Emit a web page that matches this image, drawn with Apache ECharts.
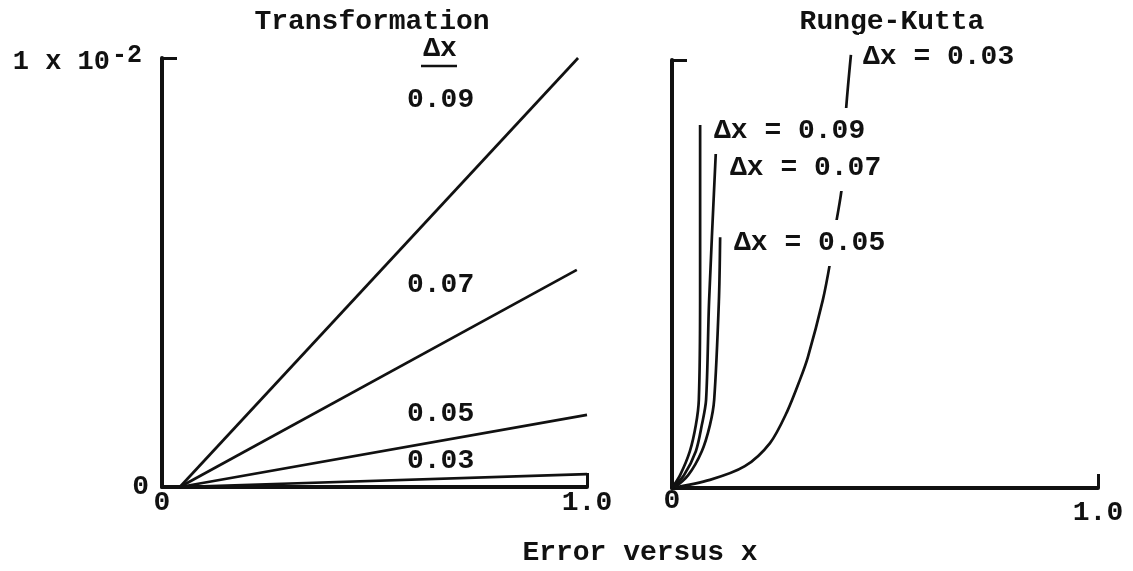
<!DOCTYPE html>
<html><head><meta charset="utf-8">
<script src="https://cdn.jsdelivr.net/npm/echarts@6/dist/echarts.min.js"></script>
<style>html,body{margin:0;padding:0;background:#fff}#c{width:1133px;height:571px}</style>
</head><body><div id="c"></div><script>
// ---- data (error in units of 1e-2, x from 0 to 1) ----
const panelTitles = ['Transformation', 'Runge-Kutta'];
const caption = 'Error versus x';
const xTickLabels = ['0', '1.0'];
const yTickLabelsLeft = ['0', '1 x 10', '-2'];
const trLabels = ['0.09', '0.07', '0.05', '0.03'];
const rkLabels = ['Δx = 0.03', 'Δx = 0.09', 'Δx = 0.07', 'Δx = 0.05'];

const tr009 = [[0.042, 0], [0.979, 1.0]];
const tr007 = [[0.042, 0], [0.976, 0.506]];
const tr005 = [[0.042, 0], [1.0, 0.168]];
const tr003 = [[0.042, 0], [1.0, 0.030]];

const rk003 = [[0, 0], [0.089, 0.019], [0.171, 0.051], [0.230, 0.105], [0.270, 0.178], [0.300, 0.252],
  [0.319, 0.306], [0.354, 0.439], [0.371, 0.526], [0.385, 0.617], [0.399, 0.706], [0.408, 0.876], [0.420, 1.012]];
const rk009 = [[0, 0], [0.019, 0.030], [0.042, 0.086], [0.056, 0.147], [0.063, 0.206], [0.066, 0.439], [0.066, 0.848]];
const rk007 = [[0, 0], [0.028, 0.030], [0.056, 0.086], [0.070, 0.147], [0.080, 0.206], [0.087, 0.435], [0.103, 0.787]];
const rk005 = [[0.005, 0], [0.038, 0.030], [0.070, 0.086], [0.089, 0.147], [0.099, 0.206], [0.110, 0.435], [0.113, 0.586]];

// ---- chart ----
const FONT = '"Liberation Mono", "DejaVu Sans Mono", monospace';
const INK = '#111';
const chart = echarts.init(document.getElementById('c'), null, {renderer: 'canvas'});

function xAxisCfg(gi, rightShift) {
  const base = {fontFamily: FONT, fontSize: 28, fontWeight: 'bold', color: INK};
  return {
    type: 'value', gridIndex: gi, min: 0, max: 1, interval: 1,
    splitLine: {show: false},
    axisLine: {lineStyle: {color: INK, width: 4}},
    axisTick: {inside: true, length: 14, lineStyle: {color: INK, width: 3}},
    axisLabel: {
      margin: 2, color: INK, fontFamily: FONT, fontSize: 28, fontWeight: 'bold',
      formatter: v => v === 0 ? '{a|' + xTickLabels[0] + '}' : '{b|' + xTickLabels[1] + '}',
      rich: {
        a: Object.assign({padding: [gi === 1 ? -3 : 0, 0, 0, 0]}, base),
        b: Object.assign({padding: [rightShift, 0, 0, 0]}, base)
      }
    }
  };
}
function yAxisCfg(gi, showLabels) {
  return {
    type: 'value', gridIndex: gi, min: 0, max: 1, interval: 1,
    splitLine: {show: false},
    axisLine: {lineStyle: {color: INK, width: 4}},
    axisTick: {inside: true, length: 15, lineStyle: {color: INK, width: 3}},
    axisLabel: {
      show: showLabels, margin: 13, color: INK, fontFamily: FONT, fontSize: 28, fontWeight: 'bold',
      formatter: v => v === 0 ? '{z|' + yTickLabelsLeft[0] + '}' : '{b|' + yTickLabelsLeft[1] + '}{s|' + yTickLabelsLeft[2] + '}',
      rich: {
        z: {fontFamily: FONT, fontSize: 28, fontWeight: 'bold', color: INK},
        b: {fontFamily: FONT, fontSize: 27, fontWeight: 'bold', color: INK, lineHeight: 30, padding: [8, 0, 0, 0]},
        s: {fontFamily: FONT, fontSize: 25, fontWeight: 'bold', color: INK, lineHeight: 30, verticalAlign: 'top', padding: [0, 7, 0, 2]}
      }
    }
  };
}
function line(data, xi) {
  return {
    type: 'line', xAxisIndex: xi, yAxisIndex: xi, data: data, symbol: 'none',
    smooth: xi === 1 ? 0.3 : false, clip: false, silent: true, z: 2,
    lineStyle: {color: INK, width: 2.7}
  };
}
function txt(text, x, y, opts) {
  return {
    type: 'text', x: x, y: y, z: 100, silent: true,
    style: Object.assign({text: text, font: 'bold 28px ' + FONT, fill: INK, align: 'left', verticalAlign: 'middle'}, opts || {})
  };
}
const labelBg = {backgroundColor: '#fff', padding: [9, 4, 9, 4]};

chart.setOption({
  animation: false,
  backgroundColor: '#fff',
  grid: [
    {left: 162, top: 58, width: 425, height: 429},
    {left: 672, top: 60, width: 426, height: 428}
  ],
  xAxis: [xAxisCfg(0, 0), xAxisCfg(1, 9)],
  yAxis: [yAxisCfg(0, true), yAxisCfg(1, false)],
  series: [
    line(tr009, 0), line(tr007, 0), line(tr005, 0), line(tr003, 0),
    line(rk003, 1), line(rk009, 1), line(rk007, 1), line(rk005, 1)
  ],
  graphic: [
    txt(panelTitles[0], 372, 22, {align: 'center'}),
    txt(panelTitles[1], 892, 22, {align: 'center'}),
    txt(caption, 640, 553, {align: 'center'}),
    txt('Δx', 440, 49, {align: 'center'}),
    {type: 'line', z: 100, silent: true, shape: {x1: 421, y1: 66, x2: 457, y2: 66}, style: {stroke: INK, lineWidth: 2.5}},
    txt(trLabels[0], 407, 100),
    txt(trLabels[1], 407, 285),
    txt(trLabels[2], 407, 414),
    txt(trLabels[3], 407, 461),
    txt(rkLabels[0], 859, 57, labelBg),
    txt(rkLabels[1], 710, 131, labelBg),
    txt(rkLabels[2], 726, 168, labelBg),
    txt(rkLabels[3], 730, 243, labelBg)
  ]
});
</script></body></html>
